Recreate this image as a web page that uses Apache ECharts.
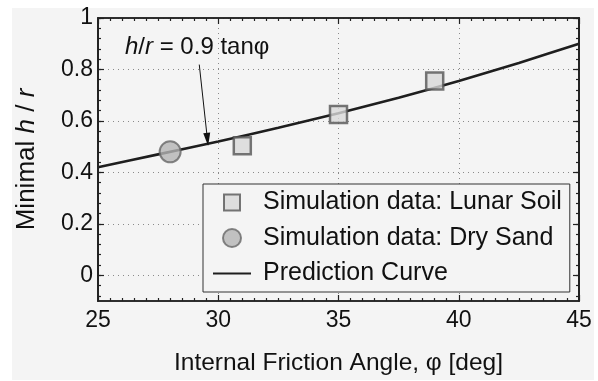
<!DOCTYPE html>
<html>
<head>
<meta charset="utf-8">
<script src="https://cdn.jsdelivr.net/npm/echarts@6/dist/echarts.min.js"></script>
<style>
  html, body { margin: 0; padding: 0; background: #ffffff; }
  #bg { position: absolute; left: 12px; top: 8px; width: 582px; height: 372px; background: #f4f4f4; }
  #chart { position: absolute; left: 0; top: 0; width: 598px; height: 381px; }
</style>
</head>
<body>
<div id="bg"></div>
<div id="chart"></div>
<script>
// 坐标轴刻度
const phiTicks = [25, 30, 35, 40, 45];
const hrTicks = [0, 0.2, 0.4, 0.6, 0.8, 1];

// 仿真数据
const lunarPhi = [31, 35, 39];
const lunarHr = [0.503, 0.625, 0.755];
const sandPhi = [28];
const sandHr = [0.48];

// 预测曲线 h/r = 0.9 tanφ
const curvePhi = [25, 27.5, 30, 32.5, 35, 37.5, 40, 42.5, 45];
const curveHr = [0.42, 0.47, 0.52, 0.573, 0.63, 0.69, 0.755, 0.825, 0.90];

// y轴次刻度（每0.04一个）
const hrMinor = [];
for (let k = -2; k <= 25; k++) hrMinor.push(Math.round(k * 4) / 100);

const FONT = 'Liberation Sans';
const AXIS_COLOR = '#222';

function initFrictionChart(container) {
    const myChart = echarts.init(container);

    const tickLine = () => ({ color: AXIS_COLOR, width: 1.2 });
    const frameLine = () => ({ show: true, onZero: false, lineStyle: { color: AXIS_COLOR, width: 1.6 } });
    const gridLine = () => ({ show: true, lineStyle: { type: [1, 4], color: '#8a8a8a', width: 1 } });

    function yAxisCfg(position, ticks, len, withLabel) {
        return {
            type: 'value',
            position: position,
            min: -0.1,
            max: 1,
            axisLine: frameLine(),
            axisTick: { show: true, inside: true, length: len, customValues: ticks, lineStyle: tickLine() },
            axisLabel: withLabel ? {
                show: true, customValues: ticks, fontSize: 23, fontFamily: FONT,
                color: '#111', margin: 5
            } : { show: false },
            splitLine: withLabel ? gridLine() : { show: false }
        };
    }

    const annotation = {
        id: 'formula',
        type: 'text',
        left: 125,
        top: 35,
        style: {
            text: '{i|h}/{i|r} = 0.9 tanφ',
            fill: '#111',
            font: '24px ' + FONT,
            rich: {
                i: { fontStyle: 'italic', fontSize: 24, fontFamily: FONT, fill: '#111' }
            }
        },
        z: 10
    };

    const option = {
        animation: false,
        textStyle: { fontFamily: FONT },
        grid: { left: 98, right: 19, top: 18, bottom: 79 },
        xAxis: [
            {
                type: 'value',
                position: 'bottom',
                min: 25,
                max: 45,
                interval: 5,
                name: 'Internal Friction Angle, φ [deg]',
                nameLocation: 'middle',
                nameGap: 50,
                nameTextStyle: { fontSize: 24.5, color: '#111', fontFamily: FONT },
                axisLine: frameLine(),
                axisTick: { show: true, inside: true, length: 6, lineStyle: tickLine() },
                minorTick: { show: true, splitNumber: 10, length: 3, lineStyle: tickLine() },
                axisLabel: { fontSize: 23, color: '#111', margin: 8, fontFamily: FONT },
                splitLine: gridLine()
            },
            {
                type: 'value',
                position: 'top',
                min: 25,
                max: 45,
                interval: 5,
                axisLine: frameLine(),
                axisTick: { show: true, inside: true, length: 6, lineStyle: tickLine() },
                minorTick: { show: true, splitNumber: 10, length: 3, lineStyle: tickLine() },
                axisLabel: { show: false },
                splitLine: { show: false }
            }
        ],
        yAxis: [
            Object.assign(yAxisCfg('left', hrTicks, 6, true), {
                name: '{n|Minimal }{i|h}{n| / }{i|r}',
                nameLocation: 'middle',
                nameGap: 58,
                nameTextStyle: {
                    fontSize: 26, color: '#111',
                    rich: {
                        n: { fontSize: 26, color: '#111', fontFamily: FONT },
                        i: { fontSize: 26, color: '#111', fontFamily: FONT, fontStyle: 'italic' }
                    }
                }
            }),
            yAxisCfg('left', hrMinor, 3, false),
            yAxisCfg('right', hrTicks, 6, false),
            yAxisCfg('right', hrMinor, 3, false)
        ],
        legend: {
            orient: 'vertical',
            left: 203,
            top: 184,
            itemWidth: 38,
            itemHeight: 18,
            itemGap: 10.5,
            padding: [6, 8, 6, 9],
            backgroundColor: '#f4f4f4',
            borderColor: '#333',
            borderWidth: 1,
            borderRadius: 0,
            textStyle: { fontSize: 25, color: '#111', lineHeight: 24, fontFamily: FONT, padding: [0, 0, 0, 7] },
            data: [
                // 路径里的两个 M 点撑开 38x18 的图标框，让方块保持正方形
                { name: 'Simulation data: Lunar Soil', icon: 'path://M0,0M38,18M11,1H27V17H11Z' },
                { name: 'Simulation data: Dry Sand' },
                { name: 'Prediction Curve' }
            ]
        },
        graphic: [annotation],
        series: [
            {
                name: 'Prediction Curve',
                type: 'line',
                xAxisIndex: 0,
                yAxisIndex: 0,
                data: curvePhi.map((p, i) => [p, curveHr[i]]),
                symbol: 'none',
                smooth: 0.2,
                lineStyle: { color: '#1e1e1e', width: 2.6 },
                itemStyle: { color: '#1e1e1e', opacity: 0 },
                z: 3,
                markLine: {
                    silent: true,
                    symbol: ['none', 'triangle'],
                    symbolSize: [7, 13],
                    label: { show: false },
                    lineStyle: { color: '#111', width: 1, type: 'solid', opacity: 1 },
                    itemStyle: { opacity: 1, color: '#111' },
                    data: [[{ coord: [29.21, 0.819] }, { coord: [29.55, 0.528] }]]
                }
            },
            {
                name: 'Simulation data: Lunar Soil',
                type: 'scatter',
                xAxisIndex: 0,
                yAxisIndex: 0,
                symbol: 'rect',
                symbolSize: 17,
                data: lunarPhi.map((p, i) => [p, lunarHr[i]]),
                itemStyle: { color: '#d8d8d8', borderColor: '#555', borderWidth: 2.5 },
                z: 4
            },
            {
                name: 'Simulation data: Dry Sand',
                type: 'scatter',
                xAxisIndex: 0,
                yAxisIndex: 0,
                symbol: 'circle',
                symbolSize: 21,
                data: sandPhi.map((p, i) => [p, sandHr[i]]),
                itemStyle: { color: '#b4b4b4', borderColor: '#666', borderWidth: 2 },
                z: 4
            }
        ]
    };

    myChart.setOption(option);

    // 外框：用坐标轴换算出绘图区四角
    const tl = myChart.convertToPixel({ gridIndex: 0 }, [phiTicks[0], 1]);
    const br = myChart.convertToPixel({ gridIndex: 0 }, [phiTicks[phiTicks.length - 1], -0.1]);
    myChart.setOption({
        graphic: [
            annotation,
            {
                id: 'frame',
                type: 'rect',
                silent: true,
                z: 6,
                shape: { x: tl[0], y: tl[1], width: br[0] - tl[0], height: br[1] - tl[1] },
                style: { fill: 'none', stroke: AXIS_COLOR, lineWidth: 1.6 }
            }
        ]
    });

    window.addEventListener('resize', () => {
        myChart.resize();
    });

    return myChart;
}

initFrictionChart(document.getElementById('chart'));
</script>
</body>
</html>
